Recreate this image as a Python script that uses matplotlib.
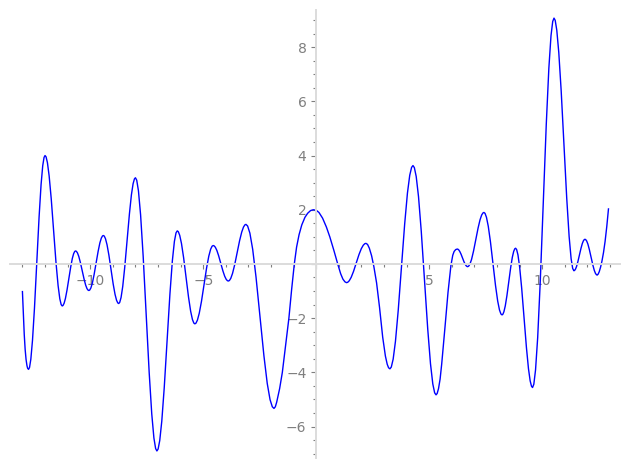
import matplotlib
matplotlib.use('Agg')
import matplotlib.pyplot as plt
from matplotlib.ticker import MultipleLocator, FuncFormatter

# curve values, left to right
# (one line per stretch between two turning points)
x_vals = [
    -13.0, -12.96, -12.92, -12.88, -12.84, -12.8, -12.77, -12.73,
    -12.686, -12.628, -12.555, -12.467, -12.365, -12.263, -12.175, -12.102, -12.044, -12.0,
    -11.954, -11.894, -11.818, -11.726, -11.62, -11.514, -11.422, -11.346, -11.286, -11.24,
    -11.205, -11.157, -11.098, -11.028, -10.945, -10.862, -10.792, -10.733, -10.685, -10.65,
    -10.615, -10.567, -10.508, -10.438, -10.355, -10.272, -10.202, -10.143, -10.095, -10.06,
    -10.022, -9.970, -9.906, -9.830, -9.74, -9.650, -9.574, -9.510, -9.458, -9.42,
    -9.379, -9.325, -9.257, -9.175, -9.08, -8.985, -8.903, -8.835, -8.781, -8.74,
    -8.696, -8.636, -8.562, -8.474, -8.37, -8.266, -8.178, -8.104, -8.044, -8.0,
    -7.943, -7.867, -7.772, -7.658, -7.525, -7.392, -7.278, -7.183, -7.107, -7.05,
    -6.996, -6.924, -6.834, -6.726, -6.6, -6.474, -6.366, -6.276, -6.204, -6.15,
    -6.103, -6.041, -5.963, -5.869, -5.76, -5.651, -5.557, -5.479, -5.417, -5.37,
    -5.321, -5.257, -5.176, -5.078, -4.965, -4.852, -4.754, -4.673, -4.609, -4.56,
    -4.52, -4.466, -4.399, -4.319, -4.225, -4.131, -4.051, -3.984, -3.93, -3.89,
    -3.843, -3.781, -3.703, -3.609, -3.5, -3.391, -3.297, -3.219, -3.157, -3.11,
    -3.036, -2.936, -2.812, -2.664, -2.49, -2.316, -2.168, -2.044, -1.944, -1.87,
    -1.81, -1.75, -1.62, -1.5, -1.36, -1.21, -1.09, -0.97, -0.87, -0.76, -0.64, -0.5, -0.38, -0.25, -0.13,
    0.0, 0.12, 0.28, 0.45, 0.6, 0.78, 0.95, 1.08, 1.18, 1.27, 1.34,
    1.392, 1.46, 1.546, 1.65, 1.77, 1.89, 1.994, 2.08, 2.148, 2.2,
    2.27, 2.35, 2.45, 2.55, 2.67, 2.8, 2.94, 3.06, 3.14, 3.2, 3.26,
    3.321, 3.403, 3.505, 3.627, 3.77, 3.913, 4.035, 4.137, 4.219, 4.28,
    4.341, 4.423, 4.525, 4.647, 4.79, 4.933, 5.055, 5.157, 5.239, 5.3,
    5.35, 5.41, 5.48, 5.55, 5.62, 5.7, 5.83, 5.96, 6.04, 6.1, 6.17, 6.24,
    6.268, 6.304, 6.35, 6.406, 6.47, 6.534, 6.59, 6.636, 6.672, 6.7,
    6.743, 6.801, 6.873, 6.959, 7.06, 7.161, 7.247, 7.319, 7.377, 7.42,
    7.468, 7.532, 7.612, 7.708, 7.82, 7.932, 8.028, 8.108, 8.172, 8.22,
    8.256, 8.304, 8.364, 8.436, 8.52, 8.604, 8.676, 8.736, 8.784, 8.82,
    8.865, 8.925, 9.0, 9.09, 9.195, 9.30, 9.39, 9.465, 9.525, 9.57,
    9.627, 9.703, 9.798, 9.912, 10.045, 10.178, 10.292, 10.387, 10.463, 10.52,
    10.573, 10.643, 10.731, 10.837, 10.96, 11.083, 11.189, 11.277, 11.347, 11.4,
    11.429, 11.469, 11.518, 11.576, 11.645, 11.714, 11.772, 11.821, 11.861, 11.89,
    11.922, 11.966, 12.02, 12.084, 12.16, 12.236, 12.30, 12.354, 12.398, 12.43,
    12.47, 12.52, 12.58, 12.64, 12.71, 12.78, 12.855, 12.93,
]
y_vals = [
    -1.02, -1.85, -2.6, -3.15, -3.52, -3.75, -3.85, -3.89,
    -3.82, -3.514, -2.821, -1.625, 0.055, 1.735, 2.931, 3.624, 3.93, 4.0,
    3.951, 3.736, 3.248, 2.407, 1.225, 0.043, -0.798, -1.286, -1.501, -1.55,
    -1.532, -1.453, -1.275, -0.967, -0.535, -0.103, 0.205, 0.383, 0.462, 0.48,
    0.467, 0.411, 0.282, 0.061, -0.25, -0.561, -0.782, -0.911, -0.967, -0.98,
    -0.962, -0.883, -0.705, -0.397, 0.035, 0.467, 0.775, 0.953, 1.032, 1.05,
    1.028, 0.931, 0.71, 0.329, -0.205, -0.739, -1.12, -1.341, -1.438, -1.46,
    -1.419, -1.239, -0.831, -0.128, 0.86, 1.848, 2.551, 2.959, 3.139, 3.18,
    3.091, 2.70, 1.814, 0.286, -1.86, -4.006, -5.534, -6.42, -6.811, -6.9,
    -6.828, -6.513, -5.80, -4.569, -2.84, -1.111, 0.12, 0.833, 1.148, 1.22,
    1.19, 1.057, 0.755, 0.235, -0.495, -1.225, -1.745, -2.047, -2.18, -2.21,
    -2.184, -2.072, -1.818, -1.38, -0.765, -0.15, 0.288, 0.542, 0.654, 0.68,
    0.668, 0.618, 0.503, 0.304, 0.025, -0.254, -0.453, -0.568, -0.618, -0.63,
    -0.612, -0.531, -0.347, -0.03, 0.415, 0.86, 1.177, 1.361, 1.442, 1.46,
    1.40, 1.137, 0.54, -0.489, -1.935, -3.381, -4.41, -5.007, -5.27, -5.33,
    -5.27, -5.1, -4.6, -4.0, -3.05, -2.0, -0.95, 0.0, 0.62, 1.08, 1.44, 1.72, 1.87, 1.97, 2.0,
    1.98, 1.9, 1.69, 1.36, 1.0, 0.5, 0.0, -0.36, -0.56, -0.66, -0.69,
    -0.677, -0.621, -0.494, -0.274, 0.035, 0.344, 0.564, 0.691, 0.747, 0.76,
    0.72, 0.58, 0.3, -0.1, -0.7, -1.6, -2.7, -3.4, -3.7, -3.83, -3.87,
    -3.804, -3.513, -2.854, -1.717, -0.12, 1.477, 2.614, 3.273, 3.564, 3.63,
    3.555, 3.227, 2.484, 1.201, -0.6, -2.401, -3.684, -4.427, -4.755, -4.83,
    -4.78, -4.6, -4.25, -3.7, -3.05, -2.3, -1.05, -0.05, 0.32, 0.46, 0.53, 0.55,
    0.544, 0.519, 0.462, 0.363, 0.225, 0.087, -0.012, -0.069, -0.094, -0.1,
    -0.082, -0.005, 0.171, 0.474, 0.9, 1.326, 1.629, 1.805, 1.882, 1.9,
    1.867, 1.72, 1.388, 0.815, 0.01, -0.795, -1.368, -1.70, -1.847, -1.88,
    -1.858, -1.763, -1.547, -1.174, -0.65, -0.126, 0.247, 0.463, 0.558, 0.58,
    0.534, 0.335, -0.116, -0.896, -1.99, -3.084, -3.864, -4.315, -4.514, -4.56,
    -4.439, -3.911, -2.713, -0.647, 2.255, 5.157, 7.223, 8.421, 8.949, 9.07,
    8.988, 8.626, 7.807, 6.394, 4.41, 2.426, 1.013, 0.194, -0.168, -0.25,
    -0.24, -0.195, -0.093, 0.083, 0.33, 0.577, 0.753, 0.855, 0.90, 0.91,
    0.898, 0.847, 0.731, 0.531, 0.25, -0.031, -0.231, -0.347, -0.398, -0.41,
    -0.38, -0.29, -0.12, 0.1, 0.42, 0.83, 1.38, 2.03,
]

axis_grey = '#dcdcdc'
label_grey = '#7f7f7f'


def fmt(v, pos):
    if abs(v) < 1e-9:
        return ''
    s = '%g' % v
    return s.replace('-', '\u2212')


fig = plt.figure(figsize=(6.3, 4.7), dpi=100)
ax = fig.add_axes([10 / 630, 12 / 470, 610 / 630, 448 / 470])
ax.plot(x_vals, y_vals, color='blue', lw=1.0, solid_joinstyle='round')

ax.set_xlim(-13.55, 13.44)
ax.set_ylim(-7.16, 9.37)

for side in ['top', 'right']:
    ax.spines[side].set_visible(False)
for side in ['left', 'bottom']:
    ax.spines[side].set_position(('data', 0))
    ax.spines[side].set_color(axis_grey)
    ax.spines[side].set_linewidth(1.4)

ax.xaxis.set_major_locator(MultipleLocator(5))
ax.xaxis.set_minor_locator(MultipleLocator(1))
ax.yaxis.set_major_locator(MultipleLocator(2))
ax.yaxis.set_minor_locator(MultipleLocator(0.5))
ax.xaxis.set_major_formatter(FuncFormatter(fmt))
ax.yaxis.set_major_formatter(FuncFormatter(fmt))

ax.tick_params(which='both', color=label_grey, labelcolor=label_grey,
               labelsize=10, width=0.8)
ax.tick_params(which='major', length=3.5)
ax.tick_params(which='minor', length=2)

fig.savefig('out.png', dpi=100)
